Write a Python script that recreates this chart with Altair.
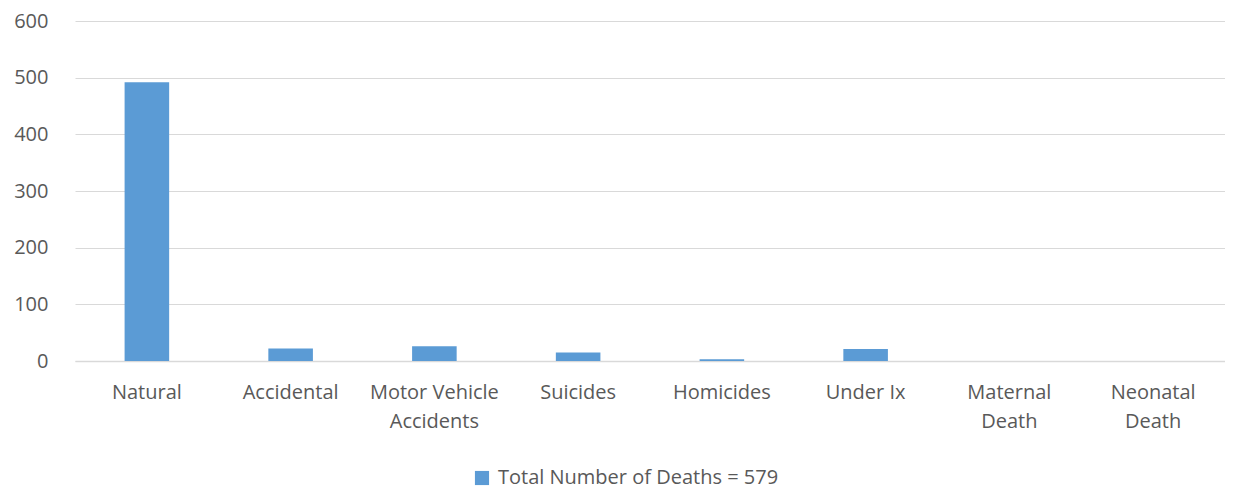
import altair as alt
import pandas as pd

categories = ["Natural", "Accidental", "Motor Vehicle|Accidents", "Suicides",
              "Homicides", "Under Ix", "Maternal|Death", "Neonatal|Death"]
deaths = [492, 22, 26, 15, 3, 21, 0, 0]
series_name = "Total Number of Deaths = 579"
y_ticks = [0, 100, 200, 300, 400, 500, 600]

df = pd.DataFrame({"category": categories, "deaths": deaths, "series": series_name})

FONT = "Open Sans"
TXT = "#595959"
FS = 20

chart = alt.Chart(df).mark_bar(color="#5b9bd5").encode(
    x=alt.X("category:N", sort=categories, title=None,
            scale=alt.Scale(paddingInner=0.69, paddingOuter=0.345),
            axis=alt.Axis(labelAngle=0, labelExpr="split(datum.label, '|')",
                          labelFont=FONT, labelFontSize=FS, labelColor=TXT,
                          labelLineHeight=29, labelPadding=21, ticks=False,
                          domainColor="#d9d9d9", domainWidth=1.5, grid=False)),
    y=alt.Y("deaths:Q", title=None,
            scale=alt.Scale(domain=[0, 600], nice=False),
            axis=alt.Axis(values=y_ticks, labelFont=FONT, labelFontSize=FS,
                          labelColor=TXT, labelPadding=27, ticks=False,
                          domain=False, gridColor="#d9d9d9", gridWidth=1)),
    color=alt.Color("series:N", scale=alt.Scale(range=["#5b9bd5"]),
                    legend=alt.Legend(title=None, orient="none", legendX=397, legendY=447,
                                      symbolType="square", symbolSize=200,
                                      symbolStrokeWidth=0, labelLimit=500,
                                      labelFont=FONT, labelFontSize=FS, labelColor=TXT,
                                      padding=0, labelOffset=6)),
).properties(
    width=1150, height=340,
    autosize=alt.AutoSizeParams(type="none"),
    padding={"left": 67, "top": 13, "right": 0, "bottom": 135},
).configure_view(stroke=None)

chart.save("out.html", embed_options={"renderer": "svg", "actions": False})
